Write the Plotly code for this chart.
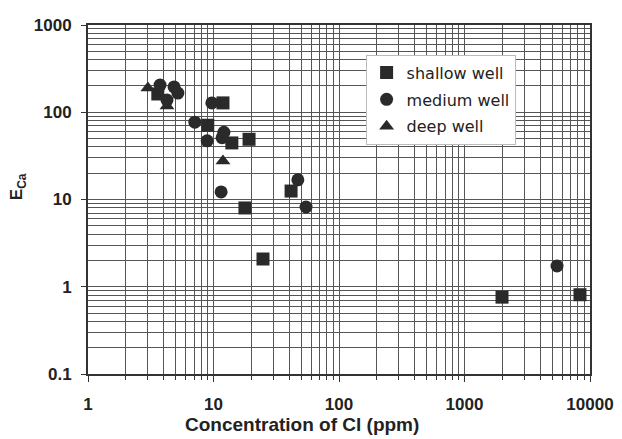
import plotly.graph_objects as go

# Data (Cl concentration in ppm, E_Ca)
shallow_x = [3.6, 11.9, 9.0, 14.0, 19.2, 17.8, 24.8, 41.5, 1990, 8320]
shallow_y = [162, 128, 71, 44.5, 49, 8.0, 2.08, 12.5, 0.76, 0.81]

medium_x = [3.75, 4.85, 5.2, 4.26, 9.7, 7.1, 8.9, 12.1, 11.7, 11.5, 47, 54.6, 5460]
medium_y = [205, 195, 166, 138, 128, 77, 47, 59, 51, 12.2, 16.8, 8.2, 1.73]

deep_x = [3.0, 4.26, 11.9]
deep_y = [190, 118, 27.6]

x_ticks = [1, 10, 100, 1000, 10000]
y_ticks = [0.1, 1, 10, 100, 1000]
y_labels = ["0.1", "1", "10", "100", "1000"]

mk = "#2a2a2a"
fig = go.Figure()
fig.add_trace(go.Scatter(x=shallow_x, y=shallow_y, mode="markers", name="shallow well",
                         legendgroup="s",
                         marker=dict(symbol="square", size=13, color=mk)))
fig.add_trace(go.Scatter(x=medium_x, y=medium_y, mode="markers", name="medium well",
                         legendgroup="m",
                         marker=dict(symbol="circle", size=13, color=mk)))
fig.add_trace(go.Scatter(x=deep_x, y=deep_y, mode="markers", name="deep well",
                         legendgroup="d",
                         marker=dict(symbol="triangle-up", size=13, color=mk)))

grid = "#555555"
tickfont = dict(family="Liberation Sans, Arial", size=17, color="#222")

fig.update_xaxes(type="log", range=[0, 4], tickvals=x_ticks,
                 ticktext=["<b>%s</b>" % v for v in x_ticks],
                 showgrid=True, gridcolor=grid, gridwidth=1,
                 minor=dict(showgrid=True, gridcolor=grid, gridwidth=1, dtick="D1",
                            ticks="outside", ticklen=4, tickcolor="#333"),
                 ticks="outside", ticklen=6, tickcolor="#333",
                 showline=True, linecolor="#333", linewidth=2, mirror=True,
                 tickfont=tickfont, ticklabelstandoff=8, automargin=False,
                 zeroline=False)
fig.update_yaxes(type="log", range=[-1, 3], tickvals=y_ticks,
                 ticktext=["<b>%s</b>" % t for t in y_labels],
                 showgrid=True, gridcolor=grid, gridwidth=1,
                 minor=dict(showgrid=True, gridcolor=grid, gridwidth=1, dtick="D1"),
                 ticks="outside", ticklen=5, tickcolor="#333",
                 showline=True, linecolor="#333", linewidth=2, mirror=True,
                 tickfont=tickfont, ticklabelstandoff=6, automargin=False,
                 zeroline=False)

fig.add_annotation(text="<b>Concentration of Cl (ppm)</b>", xref="paper", yref="paper",
                   x=0.426, y=-0.146, xanchor="center", yanchor="middle", showarrow=False,
                   font=dict(family="Liberation Sans, Arial", size=19, color="#222"))
fig.add_annotation(text="<b>E<sub>Ca</sub></b>", xref="paper", yref="paper",
                   x=-0.139, y=0.536, xanchor="center", yanchor="middle", showarrow=False,
                   textangle=-90,
                   font=dict(family="Liberation Sans, Arial", size=17, color="#222"))

# page body has an 8px default margin, so the figure is sized 8px smaller
fig.update_layout(
    width=614, height=431,
    margin=dict(l=80, r=32, t=17, b=65),
    paper_bgcolor="white", plot_bgcolor="white",
    showlegend=True,
    legend=dict(x=0.553, y=0.915, xanchor="left", yanchor="top",
                bgcolor="white", bordercolor="#bbbbbb", borderwidth=1,
                font=dict(family="DejaVu Sans", size=16, color="#222"),
                itemwidth=30, tracegroupgap=3),
)

fig.write_html("out.html")
